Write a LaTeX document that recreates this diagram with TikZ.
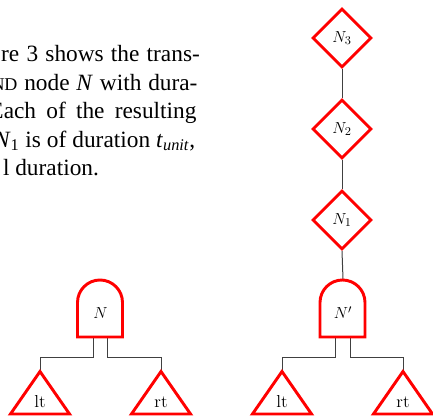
\documentclass[tikz,border=0pt]{standalone}
\usepackage{fontspec}
\usetikzlibrary{shapes.geometric}
\newfontfamily\paperfont{Liberation Serif}

\tikzset{every picture/.style={line width=0.75pt}}
\tikzset{
  redline/.style={draw={rgb, 255:red, 255; green, 0; blue, 0 }, line width=2.2pt},
  wire/.style={draw={rgb, 255:red, 64; green, 64; blue, 64 }, line width=0.75pt},
  delaynode/.style={diamond, redline, minimum width=44.25pt, minimum height=44.25pt, inner sep=0pt, font=\fontsize{13}{15}\selectfont},
  andgate/.style={rectangle, minimum width=33.75pt, minimum height=42.75pt, inner sep=0pt, text height=16.4pt, text depth=0pt, font=\fontsize{13}{15}\selectfont},
  leafnode/.style={rectangle, minimum width=43.5pt, minimum height=31.1pt, inner sep=0pt, text height=22.5pt, text depth=0pt, font=\fontsize{13}{15}\selectfont},
  paperline/.style={anchor=base west, inner sep=0pt, font=\paperfont\fontsize{17.5}{21}\selectfont}
}

\begin{document}
\begin{tikzpicture}[x=0.75pt,y=0.75pt,yscale=-1,xscale=1]
	\useasboundingbox (0,0) rectangle (433,420);
	\clip (0,0) rectangle (433,420);

	% Text Node
	\node[paperline] (line1) at (0.7,62) {\makebox[149pt][s]{re 3 shows the trans-}};
	% Text Node
	\node[paperline] (line2) at (-9,90.5) {\makebox[154.5pt][s]{{\fontsize{13.5}{16}\selectfont ND} node \textit{N} with dura-}};
	% Text Node
	\node[paperline] (line3) at (-11,119) {\makebox[155.25pt][s]{Each of the resulting}};
	% Text Node
	\node[paperline] (line4) at (-6.5,147.5) {\makebox[151pt][s]{\textit{N}\textsubscript{1} is of duration \textit{t}\textsubscript{\textit{unit}},}};
	% Text Node
	\node[paperline] (line5) at (2.5,176) {l duration.};

	%Shape: Diamond
	\node[delaynode] (n3) at (342,38) {$N_{3}$};
	%Shape: Diamond
	\node[delaynode] (n2) at (342,129) {$N_{2}$};
	%Shape: Diamond
	\node[delaynode] (n1) at (342,220) {$N_{1}$};

	% AND nodes
	\node[andgate] (gN) at (100.5,308) {$N$};
	\node[andgate] (gNp) at (343,308) {$N'$};

	% subtrees
	\node[leafnode] (lt1) at (40,392.75) {lt};
	\node[leafnode] (rt1) at (161,392.75) {rt};
	\node[leafnode] (lt2) at (282,392.75) {lt};
	\node[leafnode] (rt2) at (403,392.75) {rt};

	%Straight Lines
	\draw[wire] (n3.south) -- (n2.north);
	\draw[wire] (n2.south) -- (n1.north);
	\draw[wire] (n1.south) -- (gNp.north);
	%Straight Lines
	\draw[wire] ([xshift=-5.6pt]gN.south) -- ++(0,21) -| (lt1.north);
	\draw[wire] ([xshift=5.6pt]gN.south) -- ++(0,21) -| (rt1.north);
	\draw[wire] ([xshift=-5.6pt]gNp.south) -- ++(0,21) -| (lt2.north);
	\draw[wire] ([xshift=5.6pt]gNp.south) -- ++(0,21) -| (rt2.north);

	%Shape: AND gate
	\foreach \g in {gN,gNp}
	  \draw[redline] (\g.south west) -- ++(0,-34.5) arc[start angle=180,end angle=360,radius=22.5] -- ++(0,34.5) -- cycle;
	%Shape: Triangle
	\foreach \l in {lt1,rt1,lt2,rt2}
	  \draw[redline] (\l.north) -- (\l.south west) -- (\l.south east) -- cycle;

\end{tikzpicture}
\end{document}
